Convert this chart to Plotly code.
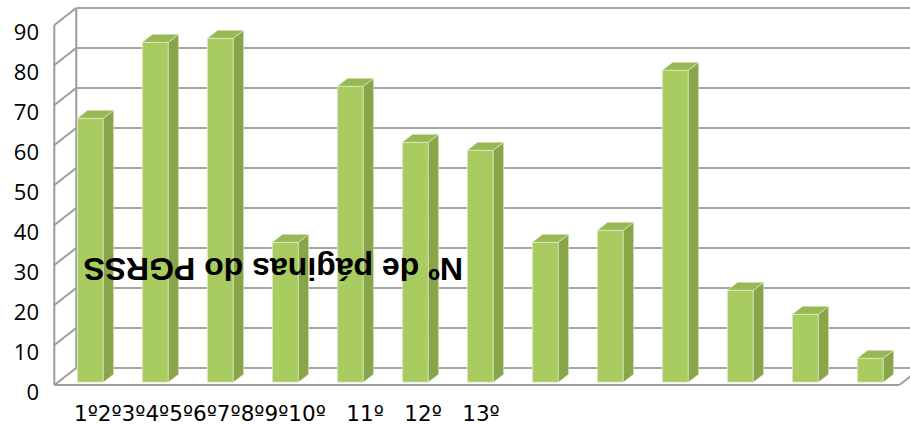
import plotly.graph_objects as go

# Número de páginas do PGRSS por estabelecimento
categories = ["1º", "2º", "3º", "4º", "5º", "6º", "7º", "8º", "9º", "10º", "11º", "12º", "13º"]
pages = [66, 85, 86, 35, 74, 60, 58, 35, 38, 78, 23, 17, 6]
y_ticks = list(range(0, 100, 10))
chart_title = "Nº de páginas do PGRSS"

# oblique projection of the 3-D box, in data units
DEPTH_X = 0.338          # horizontal shift from front plane to back wall
DEPTH_Y = 4.25           # vertical shift from front plane to back wall
BAR_Z0, BAR_Z1 = 0.16, 0.63   # depth span occupied by the columns
BAR_W = 0.4

FRONT = "#A9CC61"
SIDE = "#89A54A"
TOP = "#97B955"
EDGE = "rgba(235,242,220,0.9)"
GRID = "#A6A6A6"
WALL = "#9C9C9C"

n = len(pages)
x_left, x_right = -0.5, n - 0.5


def proj(x, y, z):
    return x + z * DEPTH_X, y + z * DEPTH_Y


def line(p0, p1, color, width):
    return dict(type="line", xref="x", yref="y", x0=p0[0], y0=p0[1], x1=p1[0], y1=p1[1],
                line=dict(color=color, width=width), layer="below")


shapes = []
# back wall gridlines
for v in y_ticks:
    shapes.append(line(proj(x_left, v, 1), proj(x_right + 1, v, 1), GRID, 2))
# left wall: edges and diagonals
shapes.append(line(proj(x_left, 0, 0), proj(x_left, y_ticks[-1], 0), WALL, 2))
shapes.append(line(proj(x_left, 0, 1), proj(x_left, y_ticks[-1], 1), WALL, 2))
for v in y_ticks:
    shapes.append(line(proj(x_left, v, 0), proj(x_left, v, 1), WALL, 2))
# floor outline
shapes.append(line(proj(x_left, 0, 0), proj(x_right, 0, 0), WALL, 2))
shapes.append(line(proj(x_right, 0, 0), proj(x_right, 0, 1), WALL, 2))

fig = go.Figure()

# front faces of the columns
x0s, y0s = zip(*[proj(i, 0, BAR_Z0) for i in range(n)])
fig.add_trace(go.Bar(
    x=list(x0s), y=pages, base=list(y0s), width=BAR_W,
    marker=dict(color=FRONT, line=dict(color=EDGE, width=0.8)),
    hoverinfo="skip", showlegend=False,
))

# side and top faces
side_x, side_y, top_x, top_y = [], [], [], []
for i, v in enumerate(pages):
    xl, xr = i - BAR_W / 2, i + BAR_W / 2
    poly = [proj(xr, 0, BAR_Z0), proj(xr, v, BAR_Z0), proj(xr, v, BAR_Z1), proj(xr, 0, BAR_Z1),
            proj(xr, 0, BAR_Z0)]
    side_x += [p[0] for p in poly] + [None]
    side_y += [p[1] for p in poly] + [None]
    poly = [proj(xl, v, BAR_Z0), proj(xr, v, BAR_Z0), proj(xr, v, BAR_Z1), proj(xl, v, BAR_Z1),
            proj(xl, v, BAR_Z0)]
    top_x += [p[0] for p in poly] + [None]
    top_y += [p[1] for p in poly] + [None]

fig.add_trace(go.Scatter(x=side_x, y=side_y, mode="lines", fill="toself", fillcolor=SIDE,
                         line=dict(color=EDGE, width=0.6), hoverinfo="skip", showlegend=False))
fig.add_trace(go.Scatter(x=top_x, y=top_y, mode="lines", fill="toself", fillcolor=TOP,
                         line=dict(color=EDGE, width=0.6), hoverinfo="skip", showlegend=False))

# category labels along the floor
CROWDED = 10
gap = "\u00a0" * 3
x_label_text = "".join(categories[:CROWDED]) + gap + gap.join(categories[CROWDED:])

annotations = [
    dict(x=-0.23, y=-7, xref="x", yref="y", xanchor="left", yanchor="middle",
         text=x_label_text, showarrow=False,
         font=dict(family="DejaVu Sans", size=21.5, color="#000000")),
    dict(x=2.865, y=29.0, xref="x", yref="y", xanchor="center", yanchor="middle",
         text="<b>" + chart_title + "</b>", textangle=180, showarrow=False,
         font=dict(family="Liberation Sans, Arial", size=32, color="#000000")),
]

fig.update_layout(
    width=910, height=428,
    margin=dict(l=40, r=0, t=0, b=0),
    paper_bgcolor="white", plot_bgcolor="white",
    shapes=shapes, annotations=annotations,
    showlegend=False,
    xaxis=dict(range=[(40 - 86.8) / 65, (910 - 86.8) / 65], visible=False, fixedrange=True),
    yaxis=dict(range=[-10.75, 96.25], showgrid=False, zeroline=False, showline=False,
               tickmode="array", tickvals=y_ticks, ticks="", ticklabelshift=7,
               tickfont=dict(family="Open Sans", size=22, color="#000000"), fixedrange=True),
)

fig.write_html("out.html")
